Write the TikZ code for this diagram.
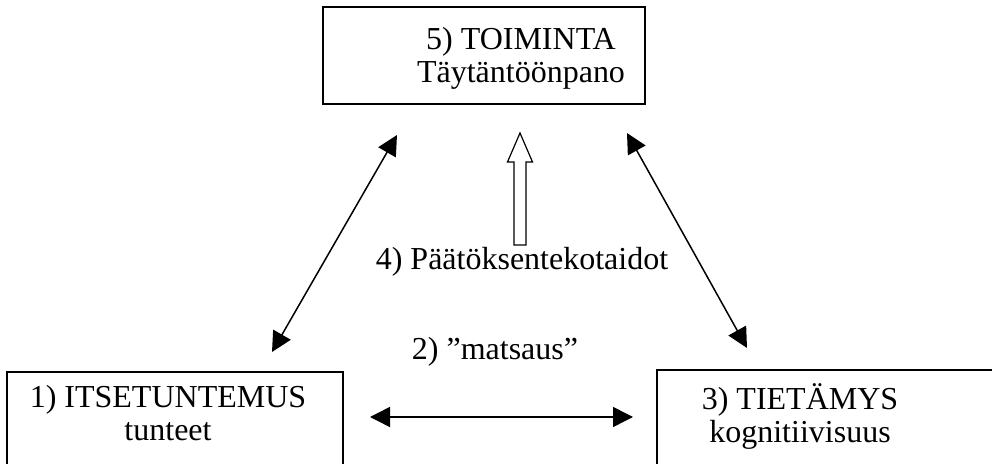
\documentclass[tikz,border=0pt]{standalone}
\usepackage{fontspec}
\setmainfont{Liberation Serif}
\usepackage{tikz}
\usetikzlibrary{arrows.meta,positioning}

\begin{document}
\begin{tikzpicture}[x=0.5pt,y=-0.5pt,
			box/.style={shape=rectangle,
				draw=black,
				line width=0.75pt,
				inner sep=0},
			txt/.style={align=center,
				font=\fontsize{16}{16.5}\selectfont},
			biarrow/.style={line width=0.75pt,
				{Triangle[length=10pt,width=10pt]}-{Triangle[length=10pt,width=10pt]}},
			hollow/.style={draw=black,line width=0.6pt,fill=white}]
			
			\useasboundingbox (0,0) rectangle (992,464);
			\clip (0,0) rectangle (992,464);
			
			\node[box,minimum width=161pt,minimum height=48.5pt] at (484, 55.5) (Toim){};
			\node[box,minimum width=168pt,minimum height=64pt] at (175, 436) (Itse){};
			\node[box,minimum width=186.5pt,minimum height=65pt] at (843.5, 435) (Tiet){};
			
			\node[txt] at (521, 58) (ToimT){5) TOIMINTA\\Täytäntöönpano};
			\node[txt] at (168, 413) (ItseT){1) ITSETUNTEMUS\\tunteet};
			\node[txt] at (800, 416) (TietT){3) TIETÄMYS\\kognitiivisuus};
			
			\node[txt,anchor=base] at (522, 270) (Paat){4) Päätöksentekotaidot};
			\node[txt,anchor=base] at (495, 360) (Mats){2) ”matsaus”};
			
			\coordinate (IT) at (272, 352);
			\coordinate (TI) at (397, 135);
			\coordinate (TT) at (627, 133);
			\coordinate (TIT) at (747, 348);
			\coordinate (IM) at (370, 417);
			\coordinate (MT) at (633, 417);
			
			\draw[biarrow] (IT) -- (TI);
			\draw[biarrow] (TT) -- (TIT);
			\draw[biarrow] (IM) -- (MT);
			
			\draw[hollow] (514,245) -- (514,162) -- (507.5,162) -- (520,133)
				-- (532.5,162) -- (526,162) -- (526,245) -- cycle;
		\end{tikzpicture}
\end{document}
